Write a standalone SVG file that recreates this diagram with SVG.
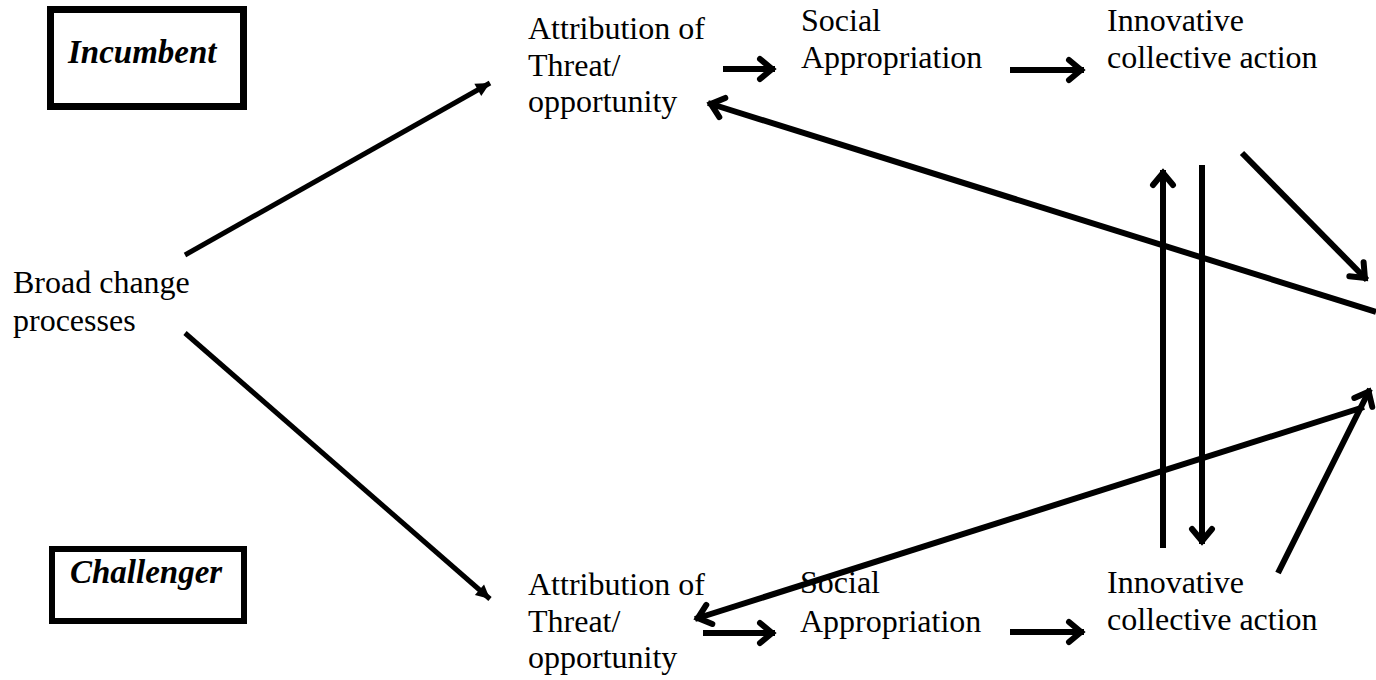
<svg xmlns="http://www.w3.org/2000/svg" width="1376" height="680" viewBox="0 0 1376 680">
<style>
  text { font-family: "Liberation Serif", "Times New Roman", serif; font-size: 32px; fill: #000; }
  .lbl { font-weight: bold; font-style: italic; font-size: 33px; }
  .box { fill: #fff; stroke: #000; }
  .thick { stroke: #000; stroke-width: 6; fill: none; marker-end: url(#chev); }
  .thin { stroke: #000; stroke-width: 5; fill: none; marker-end: url(#tri); }
</style>
<defs>
  <marker id="chev" markerUnits="userSpaceOnUse" viewBox="-20 -15 30 30" markerWidth="30" markerHeight="30" refX="3" refY="0" orient="auto">
    <path d="M-12,-10 L0,0 L-12,10" fill="none" stroke="#000" stroke-width="6" stroke-linejoin="miter" stroke-linecap="round"/>
  </marker>
  <marker id="tri" markerUnits="userSpaceOnUse" viewBox="-15 -10 20 20" markerWidth="20" markerHeight="20" refX="0" refY="0" orient="auto">
    <path d="M-14,-7 L0,0 L-14,7 Z" fill="#000"/>
  </marker>
</defs>
<rect width="1376" height="680" fill="#fff"/>
<g id="connectors">
  <line class="thin" x1="185" y1="255" x2="490" y2="83"/>
  <line class="thin" x1="185" y1="333" x2="490" y2="599"/>
  <line class="thick" x1="723" y1="69" x2="775" y2="69"/>
  <line class="thick" x1="1010" y1="70" x2="1084" y2="70"/>
  <line class="thick" x1="703" y1="633" x2="775" y2="633"/>
  <line class="thick" x1="1010" y1="632" x2="1084" y2="632"/>
  <line class="thick" x1="1376" y1="312" x2="708" y2="103"/>
  <line class="thick" x1="1364" y1="407" x2="695" y2="619"/>
  <line class="thick" x1="1278" y1="573" x2="1370" y2="389"/>
  <line class="thick" x1="1242" y1="153" x2="1367" y2="280"/>
  <line class="thick" x1="1163" y1="548" x2="1163" y2="170"/>
  <line class="thick" x1="1202" y1="165" x2="1202" y2="544"/>
</g>
<g id="incumbent">
  <rect class="box" x="50.5" y="9.5" width="193" height="97" stroke-width="7"/>
  <text class="lbl" x="68" y="63">Incumbent</text>
</g>
<g id="challenger">
  <rect class="box" x="52" y="549" width="192" height="72" stroke-width="6"/>
  <text class="lbl" x="70" y="583">Challenger</text>
</g>
<g id="broad-change">
  <text x="13" y="293">Broad change</text>
  <text x="13" y="331">processes</text>
</g>
<g id="inc-attribution">
  <text x="528" y="39">Attribution of</text>
  <text x="528" y="76">Threat/</text>
  <text x="528" y="112">opportunity</text>
</g>
<g id="inc-social">
  <text x="801" y="31">Social</text>
  <text x="801" y="68">Appropriation</text>
</g>
<g id="inc-innovative">
  <text x="1107" y="31">Innovative</text>
  <text x="1107" y="68">collective action</text>
</g>
<g id="cha-attribution">
  <text x="528" y="595">Attribution of</text>
  <text x="528" y="632">Threat/</text>
  <text x="528" y="668">opportunity</text>
</g>
<g id="cha-social">
  <text x="800" y="593">Social</text>
  <text x="800" y="632">Appropriation</text>
</g>
<g id="cha-innovative">
  <text x="1107" y="593">Innovative</text>
  <text x="1107" y="630">collective action</text>
</g>
</svg>
